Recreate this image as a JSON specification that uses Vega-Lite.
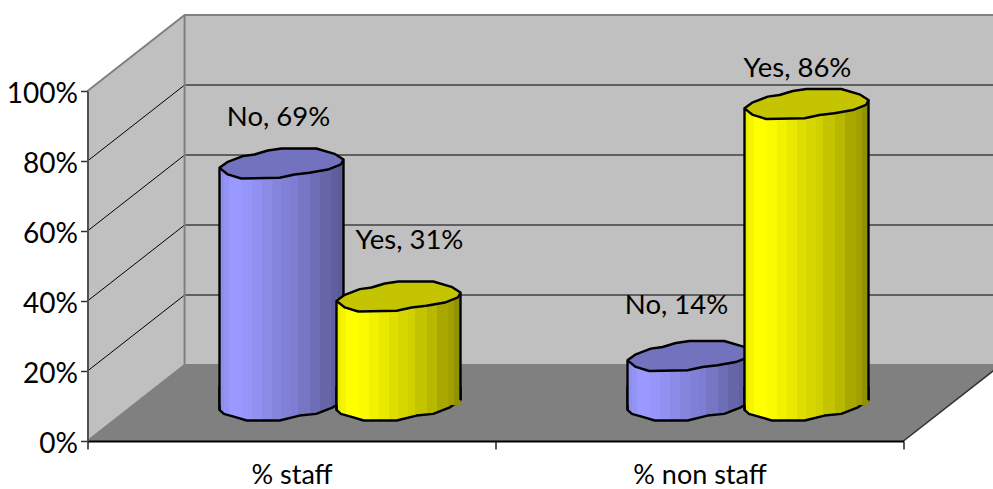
{
  "$schema": "https://vega.github.io/schema/vega-lite/v6.json",
  "width": 816,
  "height": 350,
  "padding": {"left": 87.5, "top": 91, "right": 89.5, "bottom": 48},
  "autosize": {"type": "none"},
  "background": "white",
  "config": {"view": {"stroke": null}, "text": {"font": "Lato"}},
  "datasets": {
    "answers": [
      {"category": "% staff", "answer": "No", "share": 69, "label": "No, 69%"},
      {"category": "% staff", "answer": "Yes", "share": 31, "label": "Yes, 31%"},
      {"category": "% non staff", "answer": "No", "share": 14, "label": "No, 14%"},
      {"category": "% non staff", "answer": "Yes", "share": 86, "label": "Yes, 86%"}
    ],
    "panes": [
      {"pane": "side", "along": 0, "low": 0, "high": 100},
      {"pane": "side", "along": 0.238, "low": 21.7, "high": 121.7},
      {"pane": "back", "along": 0.238, "low": 21.7, "high": 121.7},
      {"pane": "back", "along": 2.238, "low": 21.7, "high": 121.7},
      {"pane": "floor", "along": 0, "low": 0, "high": 0},
      {"pane": "floor", "along": 0.238, "low": 0, "high": 21.7},
      {"pane": "floor", "along": 2, "low": 0, "high": 21.7},
      {"pane": "floor", "along": 2.238, "low": 21.7, "high": 21.7}
    ],
    "gridlines": [
      {"level": 20, "wall": "side", "along": 0, "height": 20},
      {"level": 20, "wall": "side", "along": 0.238, "height": 41.7},
      {"level": 40, "wall": "side", "along": 0, "height": 40},
      {"level": 40, "wall": "side", "along": 0.238, "height": 61.7},
      {"level": 60, "wall": "side", "along": 0, "height": 60},
      {"level": 60, "wall": "side", "along": 0.238, "height": 81.7},
      {"level": 80, "wall": "side", "along": 0, "height": 80},
      {"level": 80, "wall": "side", "along": 0.238, "height": 101.7},
      {"level": 20, "wall": "back", "along": 0.238, "height": 41.7},
      {"level": 20, "wall": "back", "along": 2.238, "height": 41.7},
      {"level": 40, "wall": "back", "along": 0.238, "height": 61.7},
      {"level": 40, "wall": "back", "along": 2.238, "height": 61.7},
      {"level": 60, "wall": "back", "along": 0.238, "height": 81.7},
      {"level": 60, "wall": "back", "along": 2.238, "height": 81.7},
      {"level": 80, "wall": "back", "along": 0.238, "height": 101.7},
      {"level": 80, "wall": "back", "along": 2.238, "height": 101.7}
    ],
    "edges": [
      {"edge": "top", "along": 0, "height": 100},
      {"edge": "top", "along": 0.238, "height": 121.7},
      {"edge": "top", "along": 2.238, "height": 121.7},
      {"edge": "corner", "along": 0.238, "height": 21.7},
      {"edge": "corner", "along": 0.238, "height": 121.7},
      {"edge": "foot", "along": 0, "height": 0},
      {"edge": "foot", "along": 0.238, "height": 21.7},
      {"edge": "foot", "along": 2.238, "height": 21.7}
    ],
    "rim": [
      {"along": 2, "height": 0},
      {"along": 2.238, "height": 21.7}
    ]
  },
  "resolve": {"scale": {"x": "independent"}},
  "layer": [
    {
      "description": "Walls, floor and gridlines of the 3-D box",
      "encoding": {
        "x": {"field": "along", "type": "quantitative", "axis": null, "scale": {"domain": [0, 2], "nice": false, "zero": false}},
        "y": {"type": "quantitative", "scale": {"domain": [0, 100], "nice": false}}
      },
      "layer": [
        {
          "data": {"name": "panes"},
          "transform": [{"filter": "datum.pane === 'side'"}],
          "mark": {"type": "area", "color": "#C0C0C0", "clip": false},
          "encoding": {"y": {"field": "low", "type": "quantitative"}, "y2": {"field": "high"}}
        },
        {
          "data": {"name": "panes"},
          "transform": [{"filter": "datum.pane === 'back'"}],
          "mark": {"type": "area", "color": "#C0C0C0", "clip": false},
          "encoding": {"y": {"field": "low", "type": "quantitative"}, "y2": {"field": "high"}}
        },
        {
          "data": {"name": "panes"},
          "transform": [{"filter": "datum.pane === 'floor'"}],
          "mark": {"type": "area", "color": "#808080", "clip": false},
          "encoding": {"y": {"field": "low", "type": "quantitative"}, "y2": {"field": "high"}}
        },
        {
          "data": {"name": "gridlines"},
          "transform": [{"filter": "datum.wall === 'side'"}],
          "mark": {"type": "line", "color": "#000000", "strokeWidth": 1, "clip": false},
          "encoding": {"y": {"field": "height", "type": "quantitative"}, "detail": {"field": "level"}}
        },
        {
          "data": {"name": "gridlines"},
          "transform": [{"filter": "datum.wall === 'back'"}],
          "mark": {"type": "line", "color": "#404040", "strokeWidth": 1.5, "clip": false},
          "encoding": {"y": {"field": "height", "type": "quantitative"}, "detail": {"field": "level"}}
        },
        {
          "data": {"name": "edges"},
          "mark": {"type": "line", "color": "#808080", "strokeWidth": 2, "clip": false},
          "encoding": {"y": {"field": "height", "type": "quantitative"}, "detail": {"field": "edge"}}
        },
        {
          "data": {"name": "rim"},
          "mark": {"type": "line", "color": "#303030", "strokeWidth": 1.5, "clip": false},
          "encoding": {"y": {"field": "height", "type": "quantitative"}}
        }
      ]
    },
    {
      "description": "Cylinders and their labels",
      "data": {"name": "answers"},
      "encoding": {
        "x": {
          "field": "category",
          "type": "nominal",
          "scale": {"domain": ["% staff", "% non staff"], "padding": 0},
          "axis": {
            "title": null,
            "labelAngle": 0,
            "labelFont": "Lato",
            "labelFontSize": 27,
            "labelColor": "#000000",
            "labelPadding": 13,
            "tickBand": "extent",
            "tickSize": 8,
            "tickColor": "#202020",
            "tickWidth": 1.5,
            "domainColor": "#000000",
            "domainWidth": 2,
            "zindex": 1
          }
        },
        "y": {
          "field": "share",
          "type": "quantitative",
          "scale": {"domain": [0, 100], "nice": false},
          "axis": {
            "title": null,
            "values": [0, 20, 40, 60, 80, 100],
            "labelExpr": "datum.value + '%'",
            "labelFont": "Lato",
            "labelFontSize": 28,
            "labelColor": "#000000",
            "labelPadding": 3,
            "labelOffset": 3,
            "tickSize": 7,
            "tickColor": "#303030",
            "tickWidth": 1.5,
            "domainColor": "#505050",
            "domainWidth": 2,
            "grid": false,
            "zindex": 1
          }
        }
      },
      "layer": [
        {
          "transform": [{"filter": "datum.answer === 'No'"}],
          "mark": {
            "type": "point",
            "filled": true,
            "opacity": 1,
            "size": 15376,
            "xOffset": -10,
            "stroke": "#000000",
            "strokeWidth": 2.4,
            "strokeJoin": "round",
            "shape": "M-1,-0.3 L-1,0.08 L-0.93,0.144 L-0.77,0.187 L-0.56,0.25 L-0.03,0.25 L0.29,0.17 L0.56,0.144 L0.83,0.037 L1,-0.08 L1,-0.3",
            "fill": {"x1": 0, "y1": 0, "x2": 1, "y2": 0, "gradient": "linear", "stops": [
              {"offset": 0, "color": "#8E8EED"}, {"offset": 0.04, "color": "#8E8EED"}, {"offset": 0.04, "color": "#9393F5"}, {"offset": 0.08, "color": "#9393F5"}, {"offset": 0.08, "color": "#9999FF"}, {"offset": 0.18, "color": "#9999FF"}, {"offset": 0.18, "color": "#9696FA"}, {"offset": 0.26, "color": "#9696FA"}, {"offset": 0.26, "color": "#9191F2"}, {"offset": 0.34, "color": "#9191F2"}, {"offset": 0.34, "color": "#8B8BE8"}, {"offset": 0.42, "color": "#8B8BE8"}, {"offset": 0.42, "color": "#8585DE"}, {"offset": 0.5, "color": "#8585DE"}, {"offset": 0.5, "color": "#8080D6"}, {"offset": 0.58, "color": "#8080D6"}, {"offset": 0.58, "color": "#7D7DD1"}, {"offset": 0.63, "color": "#7D7DD1"}, {"offset": 0.63, "color": "#7676C4"}, {"offset": 0.73, "color": "#7676C4"}, {"offset": 0.73, "color": "#6E6EB8"}, {"offset": 0.81, "color": "#6E6EB8"}, {"offset": 0.81, "color": "#6565A8"}, {"offset": 0.9, "color": "#6565A8"}, {"offset": 0.9, "color": "#6060A0"}, {"offset": 0.95, "color": "#6060A0"}, {"offset": 0.95, "color": "#5C5C99"}, {"offset": 1, "color": "#5C5C99"}
            ]}
          },
          "encoding": {"y": {"datum": 0, "type": "quantitative"}, "yOffset": {"value": -36}}
        },
        {
          "transform": [{"filter": "datum.answer === 'No'"}],
          "mark": {
            "type": "bar",
            "width": 124,
            "xOffset": -10,
            "yOffset": -34,
            "y2Offset": -36,
            "fill": {"x1": 0, "y1": 0, "x2": 1, "y2": 0, "gradient": "linear", "stops": [
              {"offset": 0, "color": "#8E8EED"}, {"offset": 0.04, "color": "#8E8EED"}, {"offset": 0.04, "color": "#9393F5"}, {"offset": 0.08, "color": "#9393F5"}, {"offset": 0.08, "color": "#9999FF"}, {"offset": 0.18, "color": "#9999FF"}, {"offset": 0.18, "color": "#9696FA"}, {"offset": 0.26, "color": "#9696FA"}, {"offset": 0.26, "color": "#9191F2"}, {"offset": 0.34, "color": "#9191F2"}, {"offset": 0.34, "color": "#8B8BE8"}, {"offset": 0.42, "color": "#8B8BE8"}, {"offset": 0.42, "color": "#8585DE"}, {"offset": 0.5, "color": "#8585DE"}, {"offset": 0.5, "color": "#8080D6"}, {"offset": 0.58, "color": "#8080D6"}, {"offset": 0.58, "color": "#7D7DD1"}, {"offset": 0.63, "color": "#7D7DD1"}, {"offset": 0.63, "color": "#7676C4"}, {"offset": 0.73, "color": "#7676C4"}, {"offset": 0.73, "color": "#6E6EB8"}, {"offset": 0.81, "color": "#6E6EB8"}, {"offset": 0.81, "color": "#6565A8"}, {"offset": 0.9, "color": "#6565A8"}, {"offset": 0.9, "color": "#6060A0"}, {"offset": 0.95, "color": "#6060A0"}, {"offset": 0.95, "color": "#5C5C99"}, {"offset": 1, "color": "#5C5C99"}
            ]}
          },
          "encoding": {"y2": {"datum": 0}}
        },
        {
          "transform": [{"filter": "datum.answer === 'No'"}],
          "mark": {"type": "rule", "color": "#000000", "strokeWidth": 2.4, "xOffset": -72, "yOffset": -31, "y2Offset": -31},
          "encoding": {"y2": {"datum": 0}}
        },
        {
          "transform": [{"filter": "datum.answer === 'No'"}],
          "mark": {"type": "rule", "color": "#000000", "strokeWidth": 2.4, "xOffset": 52, "yOffset": -40, "y2Offset": -41},
          "encoding": {"y2": {"datum": 0}}
        },
        {
          "transform": [{"filter": "datum.answer === 'No'"}],
          "mark": {
            "type": "point",
            "filled": true,
            "opacity": 1,
            "size": 15376,
            "xOffset": -10,
            "yOffset": -36,
            "fill": "#7272BF",
            "stroke": "#000000",
            "strokeWidth": 2.4,
            "strokeJoin": "round",
            "shape": "M-1,0.07 L-0.866,-0.027 L-0.624,-0.118 L-0.435,-0.145 L-0.22,-0.21 L0,-0.242 L0.56,-0.242 L0.855,-0.156 L1,-0.065 L0.96,0.016 L0.747,0.097 L0.45,0.15 L0.21,0.177 L-0.03,0.23 L-0.65,0.242 L-0.866,0.177 Z"
          }
        },
        {
          "transform": [{"filter": "datum.answer === 'Yes'"}],
          "mark": {
            "type": "point",
            "filled": true,
            "opacity": 1,
            "size": 15376,
            "xOffset": 107,
            "stroke": "#000000",
            "strokeWidth": 2.4,
            "strokeJoin": "round",
            "shape": "M-1,-0.3 L-1,0.08 L-0.93,0.144 L-0.77,0.187 L-0.56,0.25 L-0.03,0.25 L0.29,0.17 L0.56,0.144 L0.83,0.037 L1,-0.08 L1,-0.3",
            "fill": {"x1": 0, "y1": 0, "x2": 1, "y2": 0, "gradient": "linear", "stops": [
              {"offset": 0, "color": "#EDED00"}, {"offset": 0.04, "color": "#EDED00"}, {"offset": 0.04, "color": "#F5F500"}, {"offset": 0.08, "color": "#F5F500"}, {"offset": 0.08, "color": "#FFFF00"}, {"offset": 0.18, "color": "#FFFF00"}, {"offset": 0.18, "color": "#FAFA00"}, {"offset": 0.26, "color": "#FAFA00"}, {"offset": 0.26, "color": "#F2F200"}, {"offset": 0.34, "color": "#F2F200"}, {"offset": 0.34, "color": "#E8E800"}, {"offset": 0.42, "color": "#E8E800"}, {"offset": 0.42, "color": "#DEDE00"}, {"offset": 0.5, "color": "#DEDE00"}, {"offset": 0.5, "color": "#D6D600"}, {"offset": 0.58, "color": "#D6D600"}, {"offset": 0.58, "color": "#D1D100"}, {"offset": 0.63, "color": "#D1D100"}, {"offset": 0.63, "color": "#C4C400"}, {"offset": 0.73, "color": "#C4C400"}, {"offset": 0.73, "color": "#B8B800"}, {"offset": 0.81, "color": "#B8B800"}, {"offset": 0.81, "color": "#A8A800"}, {"offset": 0.9, "color": "#A8A800"}, {"offset": 0.9, "color": "#A0A000"}, {"offset": 0.95, "color": "#A0A000"}, {"offset": 0.95, "color": "#929200"}, {"offset": 1, "color": "#929200"}
            ]}
          },
          "encoding": {"y": {"datum": 0, "type": "quantitative"}, "yOffset": {"value": -36}}
        },
        {
          "transform": [{"filter": "datum.answer === 'Yes'"}],
          "mark": {
            "type": "bar",
            "width": 124,
            "xOffset": 107,
            "yOffset": -34,
            "y2Offset": -36,
            "fill": {"x1": 0, "y1": 0, "x2": 1, "y2": 0, "gradient": "linear", "stops": [
              {"offset": 0, "color": "#EDED00"}, {"offset": 0.04, "color": "#EDED00"}, {"offset": 0.04, "color": "#F5F500"}, {"offset": 0.08, "color": "#F5F500"}, {"offset": 0.08, "color": "#FFFF00"}, {"offset": 0.18, "color": "#FFFF00"}, {"offset": 0.18, "color": "#FAFA00"}, {"offset": 0.26, "color": "#FAFA00"}, {"offset": 0.26, "color": "#F2F200"}, {"offset": 0.34, "color": "#F2F200"}, {"offset": 0.34, "color": "#E8E800"}, {"offset": 0.42, "color": "#E8E800"}, {"offset": 0.42, "color": "#DEDE00"}, {"offset": 0.5, "color": "#DEDE00"}, {"offset": 0.5, "color": "#D6D600"}, {"offset": 0.58, "color": "#D6D600"}, {"offset": 0.58, "color": "#D1D100"}, {"offset": 0.63, "color": "#D1D100"}, {"offset": 0.63, "color": "#C4C400"}, {"offset": 0.73, "color": "#C4C400"}, {"offset": 0.73, "color": "#B8B800"}, {"offset": 0.81, "color": "#B8B800"}, {"offset": 0.81, "color": "#A8A800"}, {"offset": 0.9, "color": "#A8A800"}, {"offset": 0.9, "color": "#A0A000"}, {"offset": 0.95, "color": "#A0A000"}, {"offset": 0.95, "color": "#929200"}, {"offset": 1, "color": "#929200"}
            ]}
          },
          "encoding": {"y2": {"datum": 0}}
        },
        {
          "transform": [{"filter": "datum.answer === 'Yes'"}],
          "mark": {"type": "rule", "color": "#000000", "strokeWidth": 2.4, "xOffset": 45, "yOffset": -31, "y2Offset": -31},
          "encoding": {"y2": {"datum": 0}}
        },
        {
          "transform": [{"filter": "datum.answer === 'Yes'"}],
          "mark": {"type": "rule", "color": "#000000", "strokeWidth": 2.4, "xOffset": 169, "yOffset": -40, "y2Offset": -41},
          "encoding": {"y2": {"datum": 0}}
        },
        {
          "transform": [{"filter": "datum.answer === 'Yes'"}],
          "mark": {
            "type": "point",
            "filled": true,
            "opacity": 1,
            "size": 15376,
            "xOffset": 107,
            "yOffset": -36,
            "fill": "#C4C400",
            "stroke": "#000000",
            "strokeWidth": 2.4,
            "strokeJoin": "round",
            "shape": "M-1,0.07 L-0.866,-0.027 L-0.624,-0.118 L-0.435,-0.145 L-0.22,-0.21 L0,-0.242 L0.56,-0.242 L0.855,-0.156 L1,-0.065 L0.96,0.016 L0.747,0.097 L0.45,0.15 L0.21,0.177 L-0.03,0.23 L-0.65,0.242 L-0.866,0.177 Z"
          }
        },
        {
          "transform": [{"filter": "datum.label === 'No, 69%'"}],
          "mark": {"type": "text", "fontSize": 27.5, "color": "#000000", "xOffset": -13, "yOffset": -81.5},
          "encoding": {"text": {"field": "label"}}
        },
        {
          "transform": [{"filter": "datum.label === 'Yes, 31%'"}],
          "mark": {"type": "text", "fontSize": 27.5, "color": "#000000", "xOffset": 118, "yOffset": -91.5},
          "encoding": {"text": {"field": "label"}}
        },
        {
          "transform": [{"filter": "datum.label === 'No, 14%'"}],
          "mark": {"type": "text", "fontSize": 27.5, "color": "#000000", "xOffset": -23, "yOffset": -86},
          "encoding": {"text": {"field": "label"}}
        },
        {
          "transform": [{"filter": "datum.label === 'Yes, 86%'"}],
          "mark": {"type": "text", "fontSize": 27.5, "color": "#000000", "xOffset": 98, "yOffset": -71},
          "encoding": {"text": {"field": "label"}}
        }
      ]
    }
  ]
}
